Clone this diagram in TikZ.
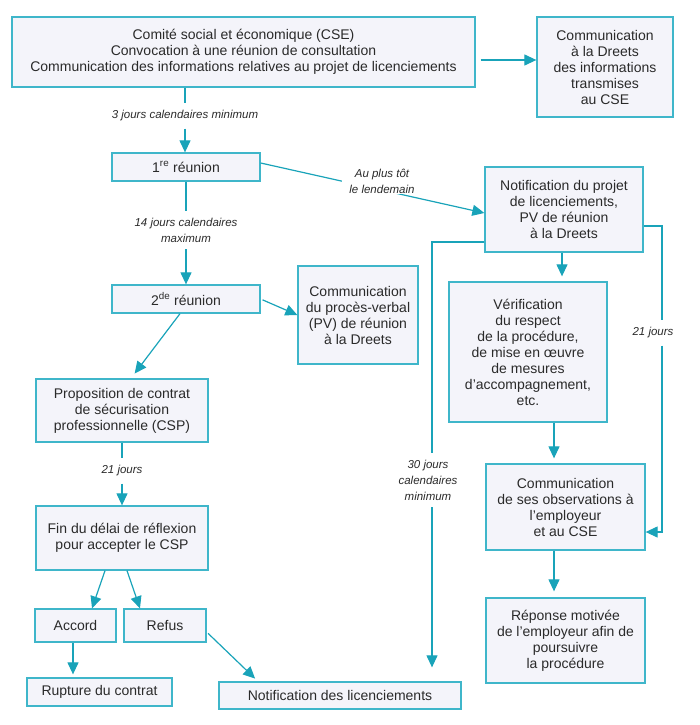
\documentclass[tikz,border=0pt]{standalone}
\usepackage{fontspec}
\setmainfont{Liberation Sans}
\usetikzlibrary{arrows.meta}
\definecolor{teal1}{HTML}{19A3B9}
\definecolor{tealb}{HTML}{3FB6CA}
\definecolor{boxfill}{HTML}{F4F4FA}
\definecolor{txt}{HTML}{2A2A2A}
\begin{document}
\begin{tikzpicture}[x=1pt,y=-1pt,
  box/.style={draw=tealb,line width=1.3pt,fill=boxfill,align=center,inner sep=0pt,
    font=\fontsize{14}{16}\selectfont,text=txt},
  lbl/.style={font=\fontsize{11.5}{16}\selectfont\itshape,text=txt,align=center,inner xsep=2pt,inner ysep=7pt},
  ln/.style={draw=teal1,line width=1.2pt},
  arr/.style={ln,-{Triangle[length=12pt,width=11pt]}}]
\useasboundingbox (0,0) rectangle (699,725);
% boxes
\node[box,minimum width=463pt,minimum height=70pt] (cse) at (243.5,52)
  {Comité social et économique (CSE)\\Convocation à une réunion de consultation\\Communication des informations relatives au projet de licenciements};
\node[box,minimum width=136pt,minimum height=100pt] (dr1) at (605,67)
  {Communication\\à la Dreets\\des informations\\transmises\\au CSE};
\node[box,minimum width=148pt,minimum height=28pt] (r1) at (186,167) {1\textsuperscript{re} réunion};
\node[box,minimum width=148pt,minimum height=28pt] (r2) at (186,299) {2\textsuperscript{de} réunion};
\node[box,minimum width=120pt,minimum height=98pt] (pv) at (358,315)
  {Communication\\du procès-verbal\\(PV) de réunion\\à la Dreets};
\node[box,minimum width=158pt,minimum height=85pt] (notif) at (564,209.5)
  {Notification du projet\\de licenciements,\\PV de réunion\\à la Dreets};
\node[box,minimum width=158pt,minimum height=140pt] (verif) at (528,352)
  {Vérification\\du respect\\de la procédure,\\de mise en œuvre\\de mesures\\d’accompagnement,\\etc.};
\node[box,minimum width=159pt,minimum height=86pt] (comm) at (565.5,507)
  {Communication\\de ses observations à\\l’employeur\\et au CSE};
\node[box,minimum width=159pt,minimum height=85pt] (rep) at (565.5,640.5)
  {Réponse motivée\\de l’employeur afin de\\poursuivre\\la procédure};
\node[box,minimum width=242pt,minimum height=27pt] (notlic) at (340,695.5) {Notification des licenciements};
\node[box,minimum width=172pt,minimum height=63pt] (csp) at (122,410.5)
  {Proposition de contrat\\de sécurisation\\professionnelle (CSP)};
\node[box,minimum width=172pt,minimum height=64pt] (fin) at (122,538)
  {Fin du délai de réflexion\\pour accepter le CSP};
\node[box,minimum width=81pt,minimum height=33pt] (accord) at (75.5,625.5) {Accord};
\node[box,minimum width=82pt,minimum height=33pt] (refus) at (165,625.5) {Refus};
\node[box,minimum width=145pt,minimum height=28pt] (rupt) at (99.5,692) {Rupture du contrat};
% labels
\node[lbl] (l3) at (185,116) {3 jours calendaires minimum};
\node[lbl] (l14) at (186,230) {14 jours calendaires\\maximum};
\node[lbl] (l21r) at (653,333) {21 jours};
\node[lbl] (l30) at (428,480) {30 jours\\calendaires\\minimum};
\node[lbl] (l21) at (122,471) {21 jours};
\coordinate (t21) at (662,226);
\coordinate (t30) at (432,242);
% connectors
\draw[arr,shorten <=5pt] ([yshift=-8pt]cse.east) -- ([yshift=-8pt]cse.east -| dr1.west);
\draw[ln] (cse.south -| l3) -- (l3.north);
\draw[arr] (l3.south) -- (r1.north -| l3);
\draw[ln] (r1.south -| l14) -- (l14.north);
\draw[arr] (l14.south) -- (r2.north -| l14);
\draw[arr,shorten <=2pt] (r2.east) -- (pv.west);
\draw[arr] ([yshift=4pt]r1.east) -- ([yshift=-3.5pt]notif.west);
\node[lbl,fill=white,inner xsep=7pt,inner ysep=1pt] (lau) at (382,181) {Au plus tôt\\le lendemain};
\draw[arr,shorten >=5pt] ([xshift=-2pt]notif.south) -- ([xshift=-2pt]notif.south |- verif.north);
\draw[arr,shorten >=5pt] ([xshift=26pt]verif.south) -- ([xshift=26pt]verif.south |- comm.north);
\draw[arr,shorten >=6pt] ([xshift=-11.5pt]comm.south) -- ([xshift=-11.5pt]comm.south |- rep.north);
\draw[ln] ([yshift=-16.5pt]notif.east) -| (l21r.north -| t21);
\draw[arr] (l21r.south -| t21) |- ([yshift=-25pt]comm.east);
\draw[ln] ([yshift=-32.5pt]notif.west) -| (l30.north -| t30);
\draw[arr,shorten >=14pt] (l30.south -| t30) -- (notlic.north -| t30);
\draw[arr,shorten >=6pt] ([xshift=-6pt]r2.south) -- ([xshift=9pt]csp.north);
\draw[ln] (csp.south) -- (l21.north);
\draw[arr] (l21.south) -- (fin.north);
\draw[arr] ([xshift=-17pt]fin.south) -- ([xshift=16.5pt]accord.north);
\draw[arr] ([xshift=5pt]fin.south) -- ([xshift=-25pt]refus.north);
\draw[arr,shorten >=3pt] ([xshift=-2.5pt]accord.south) -- ([xshift=-2.5pt]accord.south |- rupt.north);
\draw[arr,shorten <=2pt,shorten >=4pt] ([yshift=-6.5pt]refus.east) -- ([xshift=-82pt]notlic.north);
\end{tikzpicture}
\end{document}
